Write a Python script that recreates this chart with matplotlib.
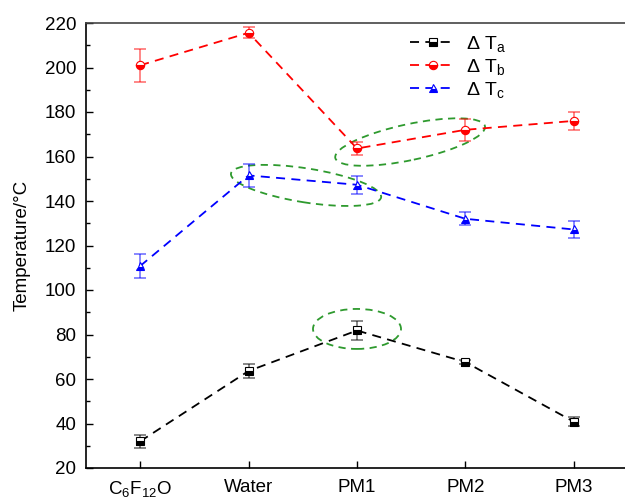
import matplotlib
matplotlib.use("Agg")
import matplotlib.pyplot as plt
from matplotlib.patches import Ellipse
from matplotlib.transforms import ScaledTranslation
from matplotlib.ticker import MultipleLocator

plt.rcParams['font.family'] = ['Liberation Sans', 'DejaVu Sans']
plt.rcParams['mathtext.fontset'] = 'custom'
plt.rcParams['mathtext.rm'] = 'Liberation Sans'
plt.rcParams['mathtext.it'] = 'Liberation Sans'
plt.rcParams['mathtext.default'] = 'regular'

categories = ['C$_6$F$_{12}$O', 'Water', 'PM1', 'PM2', 'PM3']
dTa = [32, 63.6, 81.8, 67.6, 40.8]
dTa_err = [3, 3, 4.2, 1, 2]
dTb = [201, 215.6, 163.6, 172, 176]
dTb_err = [7.5, 2.5, 3, 5, 4]
dTc = [110.8, 151.5, 147.3, 132, 127.2]
dTc_err = [5.5, 5, 4, 3, 4]
labels = [r'$\Delta$ T$_a$', r'$\Delta$ T$_b$', r'$\Delta$ T$_c$']
colors = ['black', 'red', 'blue']
markers = ['s', 'o', '^']

fig = plt.figure(figsize=(6.25, 4.99), dpi=100)
ax = fig.add_axes([86/625, 31/499, 542/625, 445/499])
x = list(range(len(categories)))

for ys, es, c, m, lab in zip([dTa, dTb, dTc], [dTa_err, dTb_err, dTc_err], colors, markers, labels):
    ax.errorbar(x, ys, yerr=es, fmt='none', ecolor=c, alpha=0.55, capsize=4, elinewidth=1.2, capthick=1.2)
    ax.plot(x, ys, linestyle=(0, (5, 3.5)), color=c, lw=1.3, marker=m, markersize=6,
            fillstyle='bottom', markerfacecolor=c, markerfacecoloralt='white',
            markeredgecolor=c, markeredgewidth=0.8, label=lab)

ax.set_xlim(-0.5, 4.5)
ax.set_ylim(20, 220)
ax.set_xticks(x)
ax.set_xticklabels(categories)
ax.yaxis.set_major_locator(MultipleLocator(20))
ax.yaxis.set_minor_locator(MultipleLocator(10))
ax.tick_params(axis='both', which='both', direction='in', labelsize=13.5, width=1)
ax.tick_params(axis='both', which='major', length=5)
ax.tick_params(axis='y', which='minor', length=3)
ax.tick_params(axis='x', which='minor', bottom=False)
ax.tick_params(axis='x', pad=8)
ax.tick_params(axis='y', pad=7)
for s in ax.spines.values():
    s.set_linewidth(1.2)
ax.spines['top'].set_color('#444444')
ax.set_ylabel('Temperature/°C', fontsize=13.5, labelpad=10)

# green dashed ellipses (center in data coords, size in inches, angle deg)
ellipses = [
    (2.0, 82.5, 0.88, 0.40, 0),
    (1.53, 147.0, 1.52, 0.34, -9),
    (2.49, 166.5, 1.53, 0.36, 12),
]
for cx, cy, w, h, ang in ellipses:
    tr = fig.dpi_scale_trans + ScaledTranslation(cx, cy, ax.transData)
    e = Ellipse((0, 0), w, h, angle=ang, transform=tr, fill=False,
                edgecolor='#2e9a2e', linestyle=(0, (4, 3)), lw=1.3)
    ax.add_patch(e)

ax.legend(loc='upper left', bbox_to_anchor=(0.565, 1.015), frameon=False, fontsize=14,
          handlelength=2.4, labelspacing=0.15, handletextpad=0.5)

fig.savefig('out.png', dpi=100)
